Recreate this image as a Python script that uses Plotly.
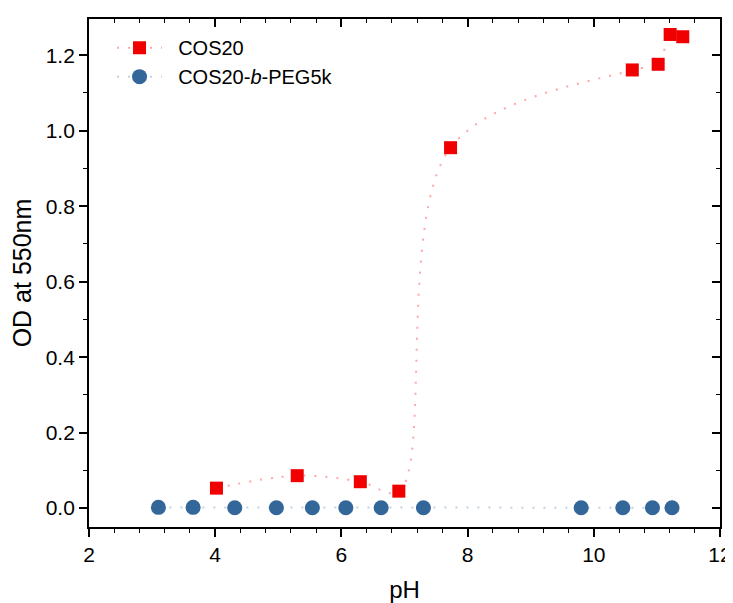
import plotly.graph_objects as go

# COS20 data
cos20_ph = [4.02, 5.30, 6.30, 6.91, 7.73, 10.61, 11.02, 11.21, 11.41]
cos20_od = [0.053, 0.086, 0.070, 0.045, 0.955, 1.161, 1.176, 1.255, 1.249]

# COS20-b-PEG5k data
peg_ph = [3.10, 3.65, 4.31, 4.97, 5.54, 6.07, 6.63, 7.30, 9.80, 10.46, 10.93, 11.24]
peg_od = [0.002, 0.002, 0.001, 0.001, 0.001, 0.001, 0.001, 0.001, 0.001, 0.001, 0.001, 0.001]

x_ticks = [2, 4, 6, 8, 10, 12]
y_ticks = [0.0, 0.2, 0.4, 0.6, 0.8, 1.0, 1.2]

FONT = "Arial, Liberation Sans, Helvetica, sans-serif"
RED = "#F00000"
BLUE = "#336699"
NB = "\u00a0\u00a0"

fig = go.Figure()
fig.add_trace(go.Scatter(
    x=cos20_ph, y=cos20_od, name=NB + "COS20", mode="lines+markers",
    line=dict(color="rgba(255,0,0,0.35)", width=2, dash="2px,9px", shape="spline", smoothing=1.0),
    marker=dict(symbol="square", size=13, color=RED),
))
fig.add_trace(go.Scatter(
    x=peg_ph, y=peg_od, name=NB + "COS20-<i>b</i>-PEG5k", mode="lines+markers",
    line=dict(color="rgba(51,102,153,0.3)", width=2, dash="2px,9px"),
    marker=dict(symbol="circle", size=15, color=BLUE),
))
# helper trace to make mirrored inward-tick axes render
fig.add_trace(go.Scatter(x=[x_ticks[0]], y=[y_ticks[0]], xaxis="x2", yaxis="y2",
                         mode="markers", marker=dict(opacity=0), showlegend=False, hoverinfo="skip"))

axis_common = dict(showgrid=False, zeroline=False, showline=True, linecolor="black", linewidth=1.8,
                   tickcolor="black", tickwidth=1.6, automargin=False)

YR = [-0.050, 1.296]

fig.update_layout(
    width=733, height=603,
    margin=dict(l=81, r=21, t=11, b=84),
    paper_bgcolor="white", plot_bgcolor="white",
    font=dict(family=FONT, color="black"),
    xaxis=dict(range=[2, 12], tickvals=x_ticks, ticks="outside", ticklen=8,
               minor=dict(dtick=0.4, tick0=2, ticks="outside", ticklen=4, tickcolor="black", tickwidth=1.4),
               tickfont=dict(size=21), title=dict(text="pH", font=dict(size=24), standoff=16),
               **axis_common),
    yaxis=dict(range=YR, tickvals=y_ticks, tickformat=".1f", ticks="outside", ticklen=8,
               minor=dict(dtick=0.1, tick0=0, ticks="outside", ticklen=4, tickcolor="black", tickwidth=1.4),
               tickfont=dict(size=21), title=dict(text="OD at 550nm", font=dict(size=25), standoff=12),
               **axis_common),
    xaxis2=dict(range=[2, 12], overlaying="x", side="top", anchor="y", tickvals=x_ticks, ticks="inside",
                ticklen=8, showticklabels=False,
                minor=dict(dtick=0.4, tick0=2, ticks="inside", ticklen=4, tickcolor="black", tickwidth=1.4),
                **axis_common),
    yaxis2=dict(range=YR, overlaying="y", side="right", anchor="x", tickvals=y_ticks,
                ticks="inside", ticklen=8, showticklabels=False,
                minor=dict(dtick=0.1, tick0=0, ticks="inside", ticklen=4, tickcolor="black", tickwidth=1.4),
                **axis_common),
    legend=dict(x=0.0365, y=0.982, xanchor="left", yanchor="top", bgcolor="rgba(0,0,0,0)",
                font=dict(size=20), itemwidth=45, tracegroupgap=0),
    showlegend=True,
)

fig.write_html("out.html")
